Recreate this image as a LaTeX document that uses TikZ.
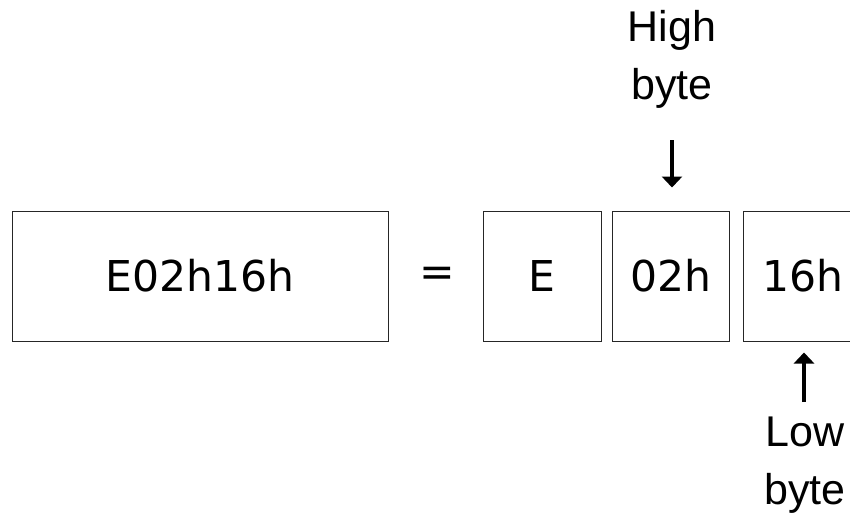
\documentclass[tikz,border=0pt]{standalone}
\usepackage{fontspec}
\setmainfont{Liberation Sans}
\newfontfamily\cellfont{DejaVu Sans}
\usetikzlibrary{arrows.meta,positioning}

\tikzset{
  cell/.style={draw=black!85, line width=1pt, minimum height=130pt, inner sep=0pt},
  lbl/.style={align=center, font=\fontsize{43}{58}\selectfont},
  arr/.style={-{Triangle[length=11pt,width=20pt]}, line width=3.4pt}
}

\begin{document}
\begin{tikzpicture}[x=1pt,y=-1pt,font=\cellfont\fontsize{42.5}{50}\selectfont]
\useasboundingbox (0,0) rectangle (850,519);
% the value and its three parts
\node[cell,minimum width=376pt] (whole) at (200,276) {E02h16h};
\node (eq) at (437,277) {=};
\node[cell,minimum width=118pt] (bE) at (542,276) {E};
\node[cell,minimum width=117pt] (bHi) at (670.5,276) {02h};
\node[cell,minimum width=120pt] (bLo) at (803,276) {16h};
% labels
\node[lbl] (hi) at (672,59) {High\\byte};
\node[lbl] (lo) at (805,465) {Low\\byte};
\coordinate (hiTail) at (672,140);
\coordinate (loTail) at (804,402);
\draw[arr,shorten >=23pt] (hiTail) -- (hiTail |- bHi.north);
\draw[arr,shorten >=11pt] (loTail) -- (loTail |- bLo.south);
\end{tikzpicture}
\end{document}
